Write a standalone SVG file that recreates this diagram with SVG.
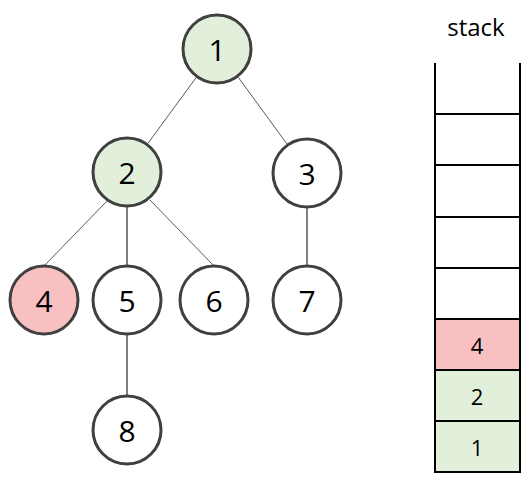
<svg xmlns="http://www.w3.org/2000/svg" width="526" height="478" viewBox="0 0 526 478">
<style>
.n circle{stroke:#404040;stroke-width:3;fill:#fff}
.n.g circle{fill:#e2efda}
.n.r circle{fill:#f8c0c0}
.n text{font-family:"Open Sans","Liberation Sans",sans-serif;font-size:30px;text-anchor:middle;dominant-baseline:central;fill:#000}
.e line{stroke-width:1}
.thin{stroke:#595959}
.blk{stroke:#000}
.cell{stroke:#000;stroke-width:2;fill:#fff}
.st{font-family:"Open Sans","Liberation Sans",sans-serif;font-size:22px;text-anchor:middle;dominant-baseline:central}
</style>
<rect width="526" height="478" fill="#fff"/>
<g id="edges" class="e">
<line class="thin" x1="196.3" y1="77.3" x2="147.7" y2="143.7"/>
<line class="thin" x1="238" y1="77" x2="287" y2="144"/>
<line class="thin" x1="107" y1="201" x2="44" y2="266"/>
<line class="blk" x1="127" y1="207" x2="127" y2="266"/>
<line class="thin" x1="150" y1="200" x2="214" y2="266"/>
<line class="blk" x1="307" y1="208" x2="307" y2="266"/>
<line class="blk" x1="127" y1="335" x2="127" y2="396"/>
</g>
<g id="node1" class="n g"><circle cx="217" cy="49" r="34"/><text x="217" y="49">1</text></g>
<g id="node2" class="n g"><circle cx="127" cy="172" r="34"/><text x="127" y="172">2</text></g>
<g id="node3" class="n"><circle cx="307" cy="173" r="34"/><text x="307" y="173">3</text></g>
<g id="node4" class="n r"><circle cx="44" cy="300" r="34"/><text x="44" y="300">4</text></g>
<g id="node5" class="n"><circle cx="127" cy="300" r="34"/><text x="127" y="300">5</text></g>
<g id="node6" class="n"><circle cx="214" cy="300" r="34"/><text x="214" y="300">6</text></g>
<g id="node7" class="n"><circle cx="307" cy="300" r="34"/><text x="307" y="300">7</text></g>
<g id="node8" class="n"><circle cx="127" cy="430" r="34"/><text x="127" y="430">8</text></g>
<g id="stack">
<text x="476" y="26" class="st" style="font-size:24px">stack</text>
<rect class="cell" x="435" y="319" width="85" height="51" style="fill:#f8c0c0"/>
<rect class="cell" x="435" y="370" width="85" height="51" style="fill:#e2efda"/>
<rect class="cell" x="435" y="421" width="85" height="51" style="fill:#e2efda"/>
<g stroke="#000" stroke-width="2" fill="none">
<line x1="435" y1="63" x2="435" y2="472"/>
<line x1="520" y1="63" x2="520" y2="472"/>
<line x1="435" y1="114" x2="520" y2="114"/>
<line x1="435" y1="165" x2="520" y2="165"/>
<line x1="435" y1="217" x2="520" y2="217"/>
<line x1="435" y1="268" x2="520" y2="268"/>
</g>
<text x="477" y="345" class="st">4</text>
<text x="477" y="396" class="st">2</text>
<text x="477" y="447" class="st">1</text>
</g>
</svg>
